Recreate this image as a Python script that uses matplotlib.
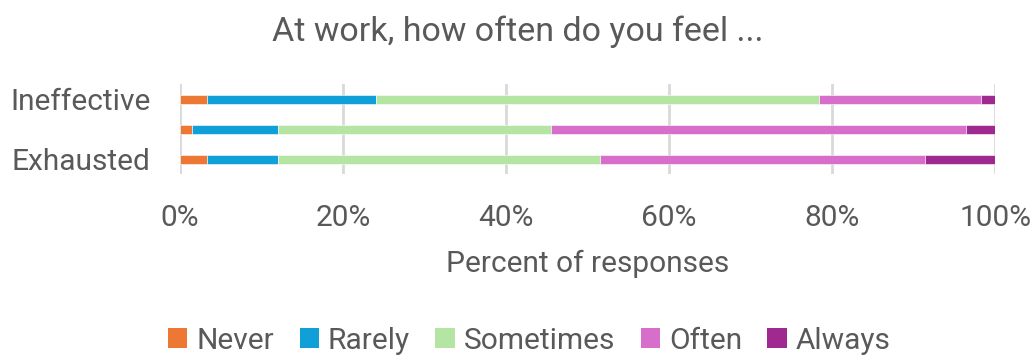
import matplotlib.pyplot as plt
from matplotlib.patches import Patch
import numpy as np

# Survey shares, bottom bar to top bar
categories = ['Exhausted', 'Cynical', 'Ineffective']
responses = ['Never', 'Rarely', 'Sometimes', 'Often', 'Always']
never = [3.4, 1.5, 3.4]
rarely = [8.6, 10.5, 20.7]
sometimes = [39.6, 33.5, 54.3]
often = [39.8, 50.9, 19.9]
always = [8.6, 3.6, 1.7]
xticks = [0, 20, 40, 60, 80, 100]
xticklabels = ['0%', '20%', '40%', '60%', '80%', '100%']

colors = ['#ED7834', '#119FD8', '#B4E5A2', '#D76FCA', '#A0298F']
text_color = '#595959'

plt.rcParams['font.family'] = ['Roboto', 'DejaVu Sans']

fig = plt.figure(figsize=(10.36, 3.55), dpi=100)
ax = fig.add_axes([0.1735, 0.5085, 0.787, 0.2535])

y = np.arange(len(categories))
left = np.zeros(len(categories))
for vals, c in zip([never, rarely, sometimes, often, always], colors):
    ax.barh(y, vals, left=left, height=0.31, color=c, edgecolor='white', linewidth=0.4, zorder=3)
    left += np.array(vals)

ax.set_xlim(0, 100)
ax.set_ylim(-0.5, 2.5)
ax.set_xticks(xticks)
ax.set_xticklabels(xticklabels)
# only every other category label fits
ax.set_yticks([0, 2])
ax.set_yticklabels([categories[0], categories[2]])
ax.tick_params(axis='both', length=0, labelsize=21.5, colors=text_color)
ax.tick_params(axis='x', pad=21)
ax.tick_params(axis='y', pad=21)
ax.grid(axis='x', color='#D9D9D9', linewidth=2, zorder=0)
for s in ax.spines.values():
    s.set_visible(False)

ax.set_xlabel('Percent of responses', fontsize=21.5, color=text_color, labelpad=13)
fig.text(0.5, 0.91, 'At work, how often do you feel ...', ha='center', va='center',
         fontsize=24.5, color=text_color)

handles = [Patch(facecolor=c, edgecolor='none') for c in colors]
fig.legend(handles, responses, loc='center', bbox_to_anchor=(0.511, 0.04), ncol=5,
           frameon=False, fontsize=21.5, labelcolor=text_color, handlelength=0.65,
           handleheight=0.65, handletextpad=0.3, columnspacing=0.85)

fig.savefig('out.png', dpi=100)
